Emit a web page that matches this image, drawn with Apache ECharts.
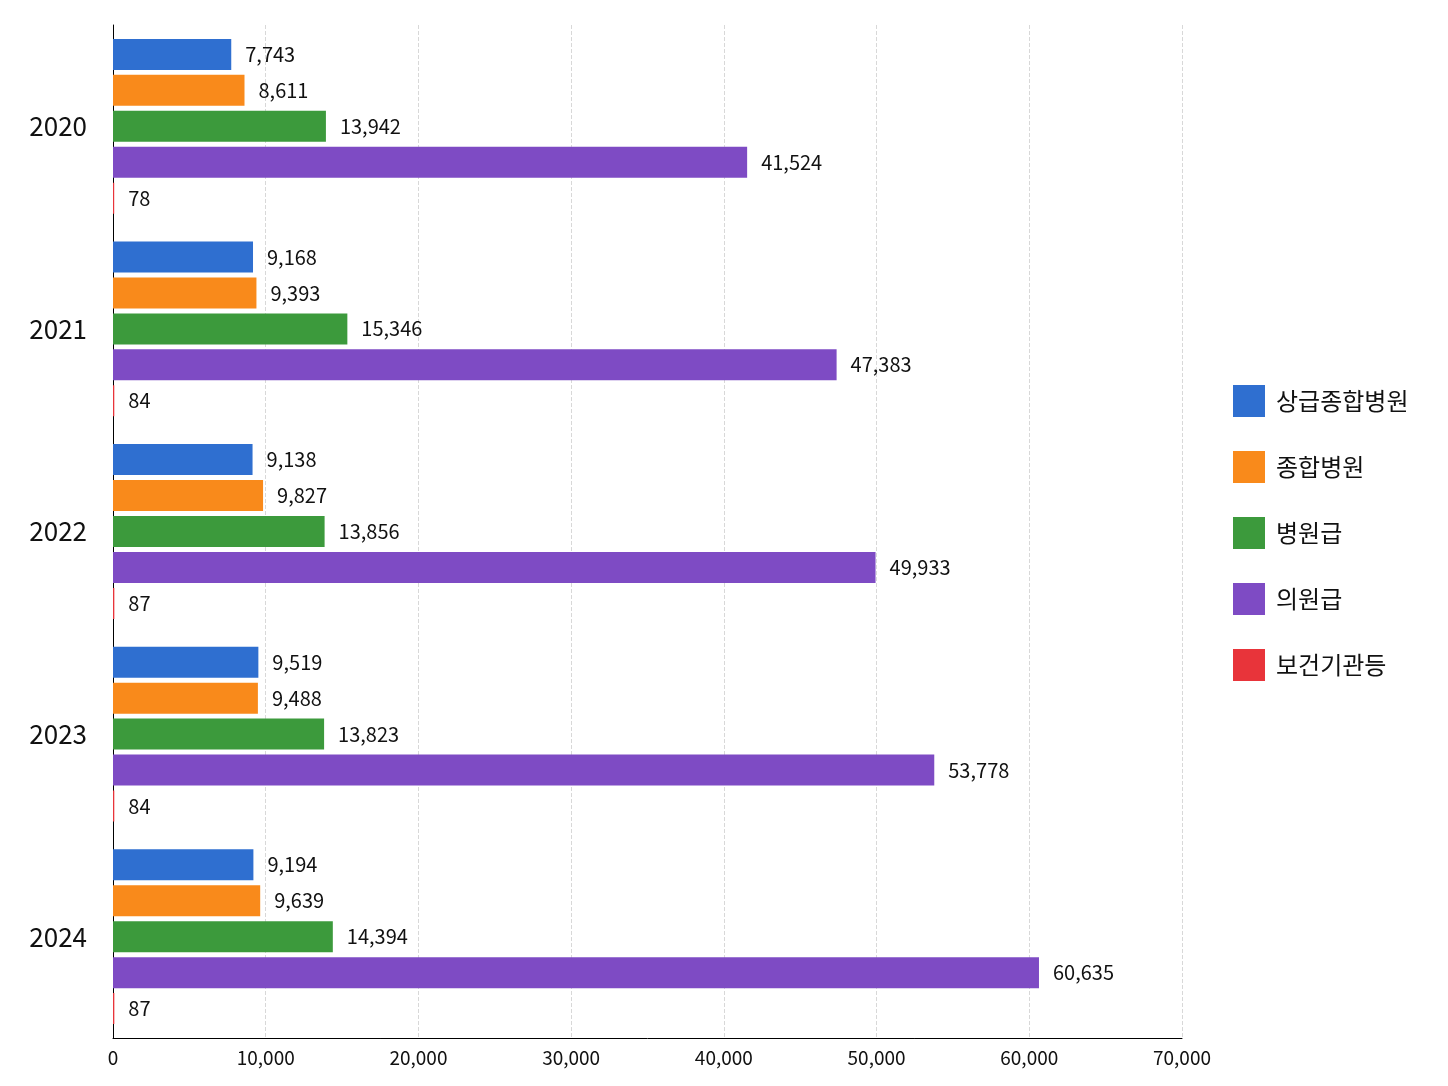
<!DOCTYPE html>
<html><head><meta charset="utf-8">
<script src="https://cdn.jsdelivr.net/npm/echarts@6/dist/echarts.min.js"></script>
<style>html,body{margin:0;background:#fff}#c{width:1448px;height:1086px}</style>
</head><body><div id="c"></div>
<script>
const years = ["2020","2021","2022","2023","2024"];
const seriesNames = ["상급종합병원","종합병원","병원급","의원급","보건기관등"];
const colors = ["#2f6fd0","#f98a1b","#3c9a3c","#7e4bc4","#e8343a"];
const s1 = [7743,9168,9138,9519,9194];
const s2 = [8611,9393,9827,9488,9639];
const s3 = [13942,15346,13856,13823,14394];
const s4 = [41524,47383,49933,53778,60635];
const s5 = [78,84,87,84,87];
const values = [s1,s2,s3,s4,s5];
const font = "'Noto Sans CJK KR','Noto Sans',sans-serif";
const chart = echarts.init(document.getElementById('c'));
chart.setOption({
  animation:false,
  color:colors,
  legend:{orient:'vertical',left:1228,top:380,itemWidth:32,itemHeight:32,itemGap:34,
    icon:'rect',textStyle:{fontSize:24,fontFamily:font,color:'#111',padding:[0,0,0,6]}},
  grid:{left:113,top:25,width:1069,height:1013},
  xAxis:{type:'value',min:0,max:70000,interval:10000,
    axisLine:{show:true,lineStyle:{color:'#000'}},axisTick:{show:false},
    axisLabel:{fontSize:19,fontFamily:font,color:'#111',margin:10,
      formatter:v=>v.toLocaleString('en-US')},
    splitLine:{show:true,lineStyle:{type:'dashed',color:'#d8d8d8'}}},
  yAxis:{type:'category',data:years,inverse:true,
    axisLine:{show:true,lineStyle:{color:'#000'}},axisTick:{show:false},
    axisLabel:{fontSize:26,fontFamily:font,color:'#111',margin:26}},
  series:seriesNames.map((n,i)=>({name:n,type:'bar',data:values[i],barWidth:31,barGap:'16%',
    label:{show:true,position:'right',distance:14,fontSize:20,fontFamily:font,color:'#111',
      formatter:p=>p.value.toLocaleString('en-US')}}))
});
</script></body></html>
